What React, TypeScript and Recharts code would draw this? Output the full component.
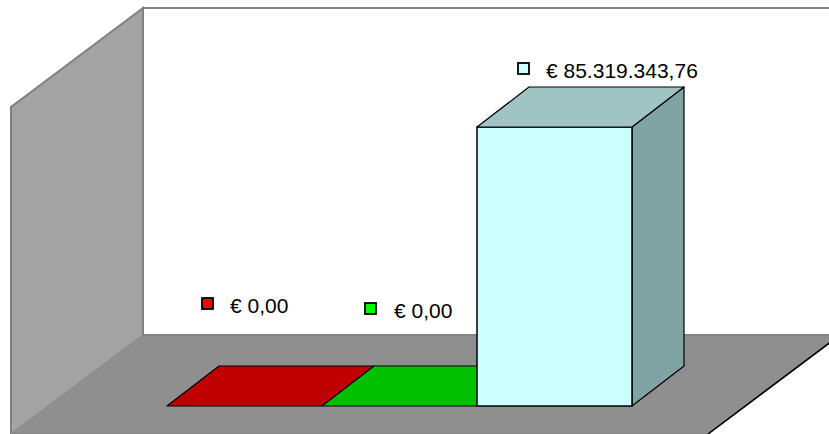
import React from "react";
import { BarChart, Bar, XAxis, YAxis, LabelList, Customized } from "recharts";

const categories = ["Categoria 1", "Categoria 2", "Categoria 3"];
const amounts = [0, 0, 85319343.76];
const seriesColors = ["#ff0000", "#00ff00", "#ccffff"];
const topColors = ["#c00000", "#00c000", "#a0c4c4"];
const sideColors = ["#c00000", "#00c000", "#80a4a4"];

const data = categories.map((name, i) => ({ name, value: amounts[i] }));

const W = 829;
const H = 434;
const DEPTH_X = 52;
const DEPTH_Y = 40;
// label offsets relative to bar front-top-left (style only)
const labelOffsets = [
  { mx: 35, my: -108, tx: 63, ty: -93 },
  { mx: 43, my: -103, tx: 72, ty: -88 },
  { mx: 41, my: -64, tx: 69, ty: -49 },
];

function formatEuro(v: number): string {
  const fixed = v.toFixed(2);
  const [intPart, dec] = fixed.split(".");
  const withDots = intPart.replace(/\B(?=(\d{3})+(?!\d))/g, ".");
  return "€ " + withDots + "," + dec;
}

const Walls = () => (
  <g>
    {/* back wall */}
    <polygon points="143,8 860,8 860,335 143,335" fill="#ffffff" stroke="#808080" strokeWidth={2} />
    {/* left wall */}
    <polygon points="143,8 11,107 11,460 143,335" fill="#a3a3a3" stroke="#808080" strokeWidth={2} />
    {/* floor */}
    <polygon points="143,335 840,335 708,434 11,434" fill="#8f8f8f" stroke="#808080" strokeWidth={1.5} />
    <line x1={840} y1={335} x2={708} y2={434} stroke="#000000" strokeWidth={1.5} />
    <line x1={143} y1={335} x2={11} y2={434} stroke="#9a9a9a" strokeWidth={1} />
  </g>
);

const Bar3D = (props: any) => {
  const { x, y, width, height, index } = props;
  const i = index ?? 0;
  const front = seriesColors[i];
  const top = topColors[i];
  const side = sideColors[i];
  const x2 = x + width;
  const yb = y + height;
  return (
    <g>
      {height > 0 && (
        <polygon
          points={`${x2},${y} ${x2 + DEPTH_X},${y - DEPTH_Y} ${x2 + DEPTH_X},${yb - DEPTH_Y} ${x2},${yb}`}
          fill={side}
          stroke="#000"
          strokeWidth={1.2}
          strokeLinejoin="round"
        />
      )}
      {height > 0 && (
        <rect x={x} y={y} width={width} height={height} fill={front} stroke="#000" strokeWidth={1.5} />
      )}
      <polygon
        points={`${x},${y} ${x + DEPTH_X},${y - DEPTH_Y} ${x2 + DEPTH_X},${y - DEPTH_Y} ${x2},${y}`}
        fill={top}
        stroke="#000"
        strokeWidth={1.2}
        strokeLinejoin="round"
      />
    </g>
  );
};

const ValueLabel = (props: any) => {
  const { x, y, value, index } = props;
  const i = index ?? 0;
  const o = labelOffsets[i];
  return (
    <g>
      <rect x={x + o.mx} y={y + o.my} width={11} height={11} fill={seriesColors[i]} stroke="#000" strokeWidth={1.8} />
      <text
        x={x + o.tx}
        y={y + o.ty}
        fontFamily="'Liberation Sans', Arial, sans-serif"
        fontSize={21}
        fill="#000"
      >
        {formatEuro(Number(value))}
      </text>
    </g>
  );
};

export default function App() {
  return (
    <div style={{ position: "absolute", left: 0, top: 0, width: W, height: H, background: "#fff" }}>
      <BarChart
        width={W}
        height={H}
        data={data}
        margin={{ top: 79, right: 197, bottom: 28, left: 167 }}
        barCategoryGap={0}
        barGap={0}
      >
        <Customized component={Walls} />
        <XAxis dataKey="name" hide />
        <YAxis hide domain={[0, 100000000]} />
        <Bar dataKey="value" isAnimationActive={false} shape={<Bar3D />}>
          <LabelList dataKey="value" content={<ValueLabel />} />
        </Bar>
      </BarChart>
    </div>
  );
}
